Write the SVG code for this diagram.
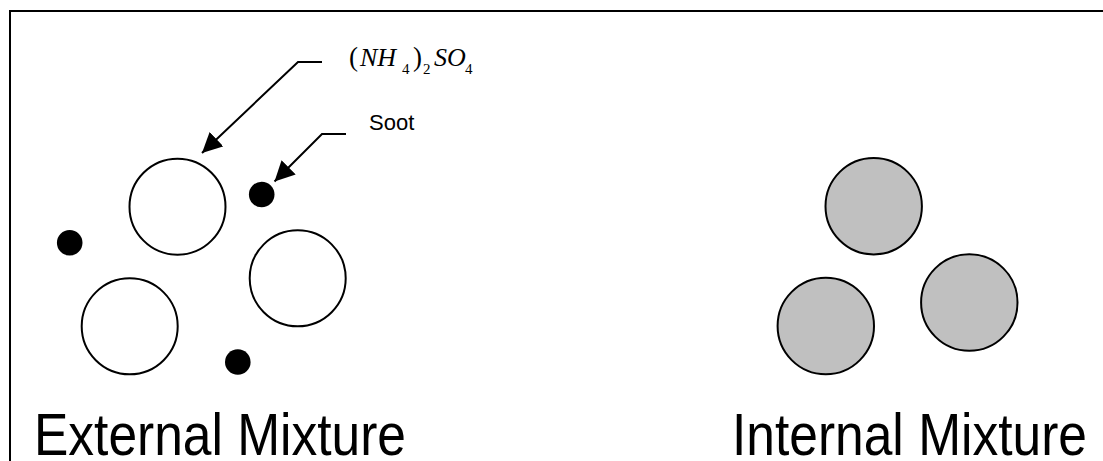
<svg xmlns="http://www.w3.org/2000/svg" width="1103" height="461" viewBox="0 0 1103 461">
  <defs>
    <marker id="arrow" markerUnits="userSpaceOnUse" markerWidth="20" markerHeight="20" refX="20" refY="10" orient="auto" viewBox="0 0 20 20">
      <path d="M0,0 L20,10 L0,20 z" fill="#000"/>
    </marker>
    <style>
      .frame { stroke: #000; stroke-width: 2; fill: none; }
      .particle { stroke: #000; stroke-width: 2; fill: #fff; }
      .mixed { stroke: #000; stroke-width: 2; fill: #c0c0c0; }
      .soot { fill: #000; stroke: none; }
      .conn { stroke: #000; stroke-width: 2; fill: none; }
      .title { font-family: "Liberation Sans", Arial, sans-serif; font-size: 60px; fill: #000; }
      .label { font-family: "Liberation Sans", Arial, sans-serif; font-size: 22px; fill: #000; }
      .mi { font-family: "Liberation Serif", "Times New Roman", serif; font-style: italic; font-size: 26px; fill: #000; }
      .mo { font-family: "Liberation Serif", "Times New Roman", serif; font-size: 27px; fill: #000; }
      .msub { font-family: "Liberation Serif", "Times New Roman", serif; font-size: 15px; fill: #000; }
    </style>
  </defs>
  <rect width="1103" height="461" fill="#fff"/>
  <g id="frame">
    <path class="frame" d="M10,461 L10,11 L1103,11"/>
  </g>
  <g id="external-mixture">
    <circle class="particle" cx="177.5" cy="206.7" r="48"/>
    <circle class="particle" cx="297.7" cy="278.3" r="48"/>
    <circle class="particle" cx="129.7" cy="326.3" r="48"/>
    <circle class="soot" cx="261.7" cy="194.5" r="12.8"/>
    <circle class="soot" cx="69.7" cy="242.8" r="12.8"/>
    <circle class="soot" cx="237.8" cy="362" r="12.8"/>
    <text class="title" x="34" y="455" textLength="372" lengthAdjust="spacingAndGlyphs">External Mixture</text>
  </g>
  <g id="internal-mixture">
    <circle class="mixed" cx="873.7" cy="206.2" r="48.2"/>
    <circle class="mixed" cx="825.8" cy="326" r="48.2"/>
    <circle class="mixed" cx="969.3" cy="302.5" r="48.2"/>
    <text class="title" x="732" y="455" textLength="355" lengthAdjust="spacingAndGlyphs">Internal Mixture</text>
  </g>
  <g id="label-ammonium-sulfate">
    <text class="mo" x="349" y="66">(</text>
    <text class="mi" x="360" y="66">NH</text>
    <text class="msub" x="402" y="74">4</text>
    <text class="mo" x="413" y="66">)</text>
    <text class="msub" x="423" y="74">2</text>
    <text class="mi" x="434" y="66">SO</text>
    <text class="msub" x="465" y="74">4</text>
  </g>
  <g id="label-soot">
    <text class="label" x="369" y="130">Soot</text>
  </g>
  <g id="connectors">
    <path class="conn" d="M322,62 L298,62 L202,153" marker-end="url(#arrow)"/>
    <path class="conn" d="M346,134 L322,134 L274.5,181.5" marker-end="url(#arrow)"/>
  </g>
</svg>
